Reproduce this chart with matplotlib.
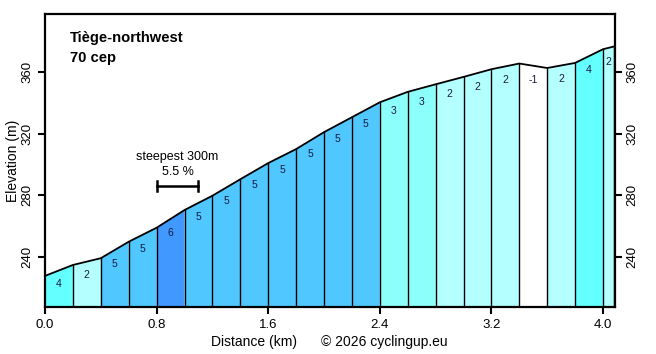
import matplotlib
matplotlib.use("Agg")
import matplotlib.pyplot as plt

plt.rcParams["font.family"] = ["Liberation Sans", "DejaVu Sans"]

# profile points (km, m)
dist = [0.0, 0.2, 0.4, 0.6, 0.8, 1.0, 1.2, 1.4, 1.6, 1.8, 2.0, 2.2, 2.4,
        2.6, 2.8, 3.0, 3.2, 3.4, 3.6, 3.8, 4.0, 4.08]
elev = [227.5, 234.6, 239.0, 249.7, 258.8, 270.3, 279.6, 290.3, 300.8, 309.9,
        320.9, 330.6, 340.3, 347.1, 352.0, 356.8, 361.8, 365.5, 362.6, 365.9,
        374.8, 376.6]
grades = [4, 2, 5, 5, 6, 5, 5, 5, 5, 5, 5, 5, 3, 3, 2, 2, 2, -1, 2, 4, 2]

grade_colors = {
    -1: "#ffffff",
    2: "#b4ffff",
    3: "#8cfffa",
    4: "#64ffff",
    5: "#50c8ff",
    6: "#4198ff",
}

title = "Tiège-northwest"
subtitle = "70 cep"
steep_start, steep_end = 0.8, 1.1
steep_text = "steepest 300m"
steep_grade = "5.5 %"

fig = plt.figure(figsize=(6.56, 3.54), dpi=100)
ax = fig.add_axes([0.0686, 0.1328, 0.8689, 0.8277])
ymin, ymax = 207.3, 397.7

for i, g in enumerate(grades):
    x0, x1 = dist[i], dist[i + 1]
    y0, y1 = elev[i], elev[i + 1]
    ax.fill([x0, x0, x1, x1], [ymin, y0, y1, ymin],
            facecolor=grade_colors[g], edgecolor="none", zorder=1)
    ax.plot([x1, x1], [ymin, y1], color="black", lw=1, zorder=2)
    ax.text((x0 + x1) / 2, (y0 + y1) / 2 - 9, str(g), ha="center",
            va="center", fontsize=7.5, color="#1a1a40", zorder=3)

ax.plot(dist, elev, color="black", lw=1.3, zorder=3)

# steepest 300m marker
ybar = 285.9
ax.plot([steep_start, steep_end], [ybar, ybar], color="black", lw=1.8)
ax.plot([steep_start, steep_start], [ybar - 3, ybar + 3], color="black", lw=1.8)
ax.plot([steep_end, steep_end], [ybar - 3, ybar + 3], color="black", lw=1.8)
xm = (steep_start + steep_end) / 2
ax.text(xm, 305, steep_text, ha="center", va="center", fontsize=9)
ax.text(xm, 295, steep_grade, ha="center", va="center", fontsize=9)

ax.text(0.18, 382.1, title, fontsize=10.6, fontweight="bold", va="center")
ax.text(0.18, 369.1, subtitle, fontsize=10.6, fontweight="bold", va="center")

ax.set_xlim(0, 4.086)
ax.set_ylim(ymin, ymax)
ax.set_xticks([0.0, 0.8, 1.6, 2.4, 3.2, 4.0])
ax.set_xticklabels(["0.0", "0.8", "1.6", "2.4", "3.2", "4.0"])
ax.set_yticks([240, 280, 320, 360])
ax.tick_params(axis="both", direction="out", length=5, width=1.5,
               labelsize=9.5)
ax.tick_params(axis="y", right=True, labelright=True, labelrotation=90)
for lab in ax.get_yticklabels():
    lab.set_va("center")
for sp in ax.spines.values():
    sp.set_linewidth(1.6)

ax.set_ylabel("Elevation (m)", fontsize=10, labelpad=1)
fig.text(253.7 / 656, 1 - 342 / 354, "Distance (km)", ha="center",
         va="center", fontsize=10)
fig.text(384.5 / 656, 1 - 342 / 354, "© 2026 cyclingup.eu", ha="center",
         va="center", fontsize=10)

fig.savefig("out.png", dpi=100)
